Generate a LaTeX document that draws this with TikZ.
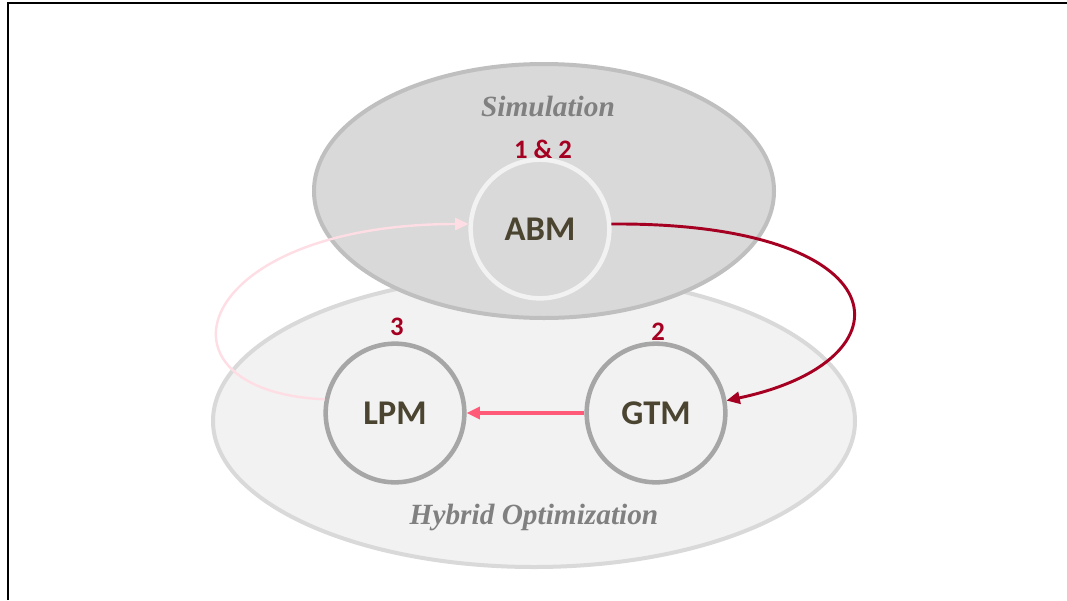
\documentclass[tikz,border=0pt]{standalone}
\usepackage{fontspec}
\setmainfont{Liberation Serif}
\newfontfamily\labelfont{Carlito}
\usetikzlibrary{arrows.meta}
\definecolor{darkred}{HTML}{A50021}
\definecolor{pinkred}{HTML}{FF5A78}
\definecolor{lightpink}{HTML}{FFDDE4}
\definecolor{olive}{HTML}{4A4430}
\definecolor{simfill}{HTML}{D9D9D9}
\definecolor{simline}{HTML}{BFBFBF}
\definecolor{hybfill}{HTML}{F2F2F2}
\definecolor{hybline}{HTML}{D9D9D9}
\definecolor{circline}{HTML}{A6A6A6}
\tikzset{
  modelnode/.style={circle, minimum size=104pt, line width=3.4pt, draw=circline, fill=hybfill,
    text=olive, font=\labelfont\bfseries\fontsize{26}{26}\selectfont, inner sep=0pt},
  numlabel/.style={text=darkred, font=\labelfont\bfseries\fontsize{20}{20}\selectfont},
  grouplabel/.style={font=\bfseries\itshape\fontsize{22}{22}\selectfont, text=black!50},
  tip/.style={-{Triangle[length=10pt,width=9pt]}}
}
\begin{document}
\begin{tikzpicture}[x=0.75pt,y=-0.75pt]
\useasboundingbox (0,0) rectangle (1067,600);
\fill[white] (0,0) rectangle (1067,600);
\draw[line width=1.6pt, black] (8,600) -- (8,3) -- (1067,3);
% Hybrid optimization ellipse
\draw[line width=3pt, draw=hybline, fill=hybfill] (534,421) ellipse [x radius=321, y radius=146];
% Simulation ellipse
\draw[line width=3pt, draw=simline, fill=simfill] (544,191) ellipse [x radius=230, y radius=127];
\node[grouplabel] (simlab) at (548,106) {Simulation};
\node[grouplabel] (hyblab) at (534,517) {Hybrid Optimization};
% model nodes
\node[modelnode, draw=hybfill, fill=simfill] (abm) at (540,229) {ABM};
\node[modelnode] (lpm) at (395,413) {LPM};
\node[modelnode] (gtm) at (656,413) {GTM};
\node[numlabel] (n12) at (543,149) {1 \& 2};
\node[numlabel] (n3) at (397,327) {3};
\node[numlabel] (n2) at (658,332) {2};
% connectors
\draw[tip, line width=2.2pt, darkred] (abm.4) .. controls +(290,-2) and +(190,-40) .. (gtm.10);
\draw[tip, line width=2.4pt, pinkred] (gtm.west) -- (lpm.east);
\draw[tip, line width=1.8pt, lightpink] (lpm.169) .. controls +(-182,-8) and +(-278,0) .. (abm.176);
\end{tikzpicture}
\end{document}
